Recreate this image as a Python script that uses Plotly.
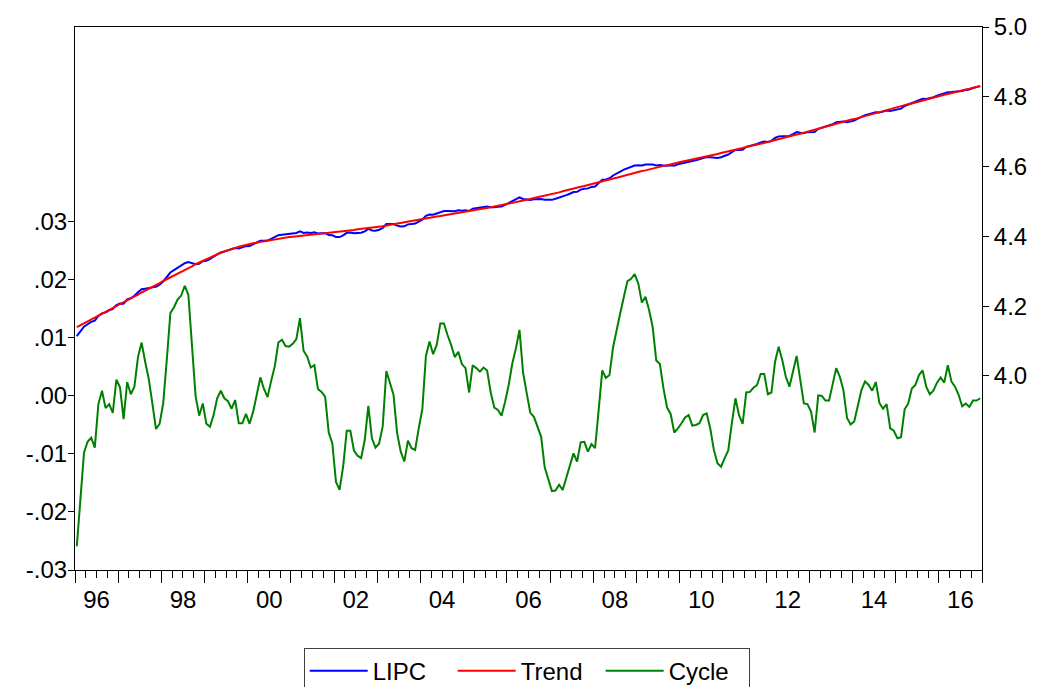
import plotly.graph_objects as go

# Monthly series, 1996M01 - 2016M12 (Hodrick-Prescott decomposition of LIPC)
start_year = 1996

cycle = [
    # 1996
    -0.0259, -0.0174, -0.0098, -0.0079, -0.0072, -0.0089, -0.0014, 0.0009, -0.0021, -0.0014, -0.0029, 0.0028,
    # 1997
    0.0015, -0.0040, 0.0024, 0.0003, 0.0016, 0.0067, 0.0092, 0.0059, 0.0029, -0.0013, -0.0057, -0.0048,
    # 1998
    -0.0013, 0.0062, 0.0143, 0.0153, 0.0166, 0.0173, 0.0190, 0.0174, 0.0088, 0.0000, -0.0034, -0.0013,
    # 1999
    -0.0048, -0.0053, -0.0033, -0.0004, 0.0009, -0.0004, -0.0009, -0.0022, -0.0007, -0.0047, -0.0047, -0.0031,
    # 2000
    -0.0048, -0.0027, 0.0002, 0.0032, 0.0012, -0.0002, 0.0026, 0.0051, 0.0092, 0.0097, 0.0086, 0.0085,
    # 2001
    0.0090, 0.0098, 0.0134, 0.0078, 0.0068, 0.0049, 0.0053, 0.0012, 0.0007, -0.0001, -0.0063, -0.0082,
    # 2002
    -0.0148, -0.0162, -0.0122, -0.0060, -0.0060, -0.0094, -0.0103, -0.0107, -0.0076, -0.0017, -0.0073, -0.0089,
    # 2003
    -0.0082, -0.0052, 0.0043, 0.0022, 0.0002, -0.0064, -0.0096, -0.0113, -0.0077, -0.0090, -0.0093, -0.0056,
    # 2004
    -0.0023, 0.0069, 0.0094, 0.0072, 0.0088, 0.0125, 0.0125, 0.0105, 0.0088, 0.0067, 0.0076, 0.0055,
    # 2005
    0.0048, 0.0006, 0.0053, 0.0048, 0.0042, 0.0049, 0.0044, 0.0006, -0.0020, -0.0024, -0.0034, -0.0010,
    # 2006
    0.0019, 0.0056, 0.0082, 0.0114, 0.0040, 0.0005, -0.0029, -0.0036, -0.0053, -0.0070, -0.0123, -0.0143,
    # 2007
    -0.0164, -0.0163, -0.0153, -0.0162, -0.0140, -0.0119, -0.0099, -0.0113, -0.0080, -0.0079, -0.0096, -0.0083,
    # 2008
    -0.0090, -0.0024, 0.0044, 0.0031, 0.0036, 0.0084, 0.0111, 0.0143, 0.0171, 0.0198, 0.0202, 0.0210,
    # 2009
    0.0194, 0.0161, 0.0171, 0.0148, 0.0119, 0.0061, 0.0055, 0.0013, -0.0020, -0.0031, -0.0063, -0.0056,
    # 2010
    -0.0047, -0.0037, -0.0033, -0.0051, -0.0050, -0.0047, -0.0033, -0.0030, -0.0056, -0.0093, -0.0116, -0.0122,
    # 2011
    -0.0107, -0.0094, -0.0047, -0.0004, -0.0033, -0.0048, 0.0006, 0.0007, 0.0014, 0.0019, 0.0038, 0.0038,
    # 2012
    0.0003, 0.0006, 0.0059, 0.0085, 0.0062, 0.0033, 0.0016, 0.0042, 0.0069, 0.0028, -0.0013, -0.0014,
    # 2013
    -0.0027, -0.0063, 0.0001, 0.0000, -0.0008, -0.0008, 0.0022, 0.0048, 0.0033, 0.0010, -0.0038, -0.0049,
    # 2014
    -0.0044, -0.0016, 0.0010, 0.0025, 0.0019, 0.0009, 0.0024, -0.0012, -0.0022, -0.0014, -0.0056, -0.0060,
    # 2015
    -0.0073, -0.0071, -0.0023, -0.0013, 0.0013, 0.0019, 0.0036, 0.0044, 0.0016, 0.0003, 0.0009, 0.0023,
    # 2016
    0.0032, 0.0023, 0.0053, 0.0025, 0.0016, 0.0002, -0.0018, -0.0013, -0.0019, -0.0008, -0.0008, -0.0004,
]

trend = [
    4.140, 4.145, 4.151, 4.156, 4.162, 4.167, 4.173, 4.178, 4.184, 4.189, 4.195, 4.200,
    4.206, 4.211, 4.217, 4.222, 4.228, 4.233, 4.239, 4.244, 4.250, 4.255, 4.261, 4.266,
    4.272, 4.277, 4.282, 4.288, 4.293, 4.298, 4.304, 4.309, 4.314, 4.320, 4.325, 4.330,
    4.335, 4.340, 4.345, 4.349, 4.353, 4.357, 4.361, 4.364, 4.367, 4.370, 4.373, 4.375,
    4.377, 4.380, 4.382, 4.384, 4.386, 4.388, 4.390, 4.392, 4.394, 4.395, 4.397, 4.398,
    4.399, 4.400, 4.401, 4.402, 4.404, 4.405, 4.406, 4.407, 4.408, 4.409, 4.410, 4.411,
    4.413, 4.414, 4.415, 4.416, 4.417, 4.418, 4.420, 4.421, 4.422, 4.423, 4.424, 4.425,
    4.427, 4.429, 4.431, 4.433, 4.435, 4.437, 4.438, 4.440, 4.442, 4.444, 4.446, 4.448,
    4.450, 4.452, 4.453, 4.455, 4.457, 4.458, 4.460, 4.462, 4.463, 4.465, 4.467, 4.468,
    4.470, 4.472, 4.474, 4.476, 4.478, 4.480, 4.481, 4.483, 4.485, 4.487, 4.489, 4.491,
    4.493, 4.495, 4.498, 4.500, 4.503, 4.505, 4.507, 4.510, 4.512, 4.514, 4.517, 4.519,
    4.521, 4.524, 4.526, 4.529, 4.532, 4.534, 4.537, 4.539, 4.542, 4.544, 4.547, 4.550,
    4.552, 4.555, 4.558, 4.560, 4.563, 4.566, 4.568, 4.571, 4.574, 4.576, 4.579, 4.582,
    4.584, 4.587, 4.589, 4.592, 4.594, 4.597, 4.599, 4.602, 4.604, 4.607, 4.609, 4.612,
    4.614, 4.616, 4.618, 4.621, 4.623, 4.625, 4.627, 4.630, 4.632, 4.634, 4.636, 4.639,
    4.641, 4.644, 4.646, 4.648, 4.651, 4.653, 4.656, 4.658, 4.661, 4.663, 4.665, 4.668,
    4.670, 4.673, 4.676, 4.678, 4.681, 4.684, 4.686, 4.689, 4.692, 4.694, 4.697, 4.700,
    4.702, 4.705, 4.708, 4.711, 4.714, 4.717, 4.719, 4.722, 4.725, 4.728, 4.731, 4.734,
    4.736, 4.739, 4.742, 4.745, 4.748, 4.751, 4.753, 4.756, 4.759, 4.762, 4.765, 4.768,
    4.770, 4.773, 4.776, 4.779, 4.781, 4.784, 4.787, 4.790, 4.792, 4.795, 4.798, 4.801,
    4.803, 4.806, 4.808, 4.811, 4.813, 4.816, 4.818, 4.821, 4.823, 4.826, 4.828, 4.831,
]

# LIPC = trend + cycle
lipc = [tr + cy for tr, cy in zip(trend, cycle)]

left_ticks = [-0.03, -0.02, -0.01, 0.00, 0.01, 0.02, 0.03]
left_labels = ["-.03", "-.02", "-.01", ".00", ".01", ".02", ".03"]
right_ticks = [4.0, 4.2, 4.4, 4.6, 4.8, 5.0]
right_labels = ["4.0", "4.2", "4.4", "4.6", "4.8", "5.0"]
year_labels = ["96", "98", "00", "02", "04", "06", "08", "10", "12", "14", "16"]

n = len(cycle)
end_year = start_year + n // 12
# each monthly observation sits at the centre of its month
t = [start_year + (i + 0.5) / 12 for i in range(n)]
label_pos = [start_year + 2 * k + 0.5 for k in range(len(year_labels))]
year_pos = list(range(start_year, end_year + 1))
quarter_pos = [start_year + q / 4 for q in range(4 * (end_year - start_year) + 1)]

FONT = "Liberation Sans, Arial, sans-serif"
fs = 24

fig = go.Figure()
fig.add_trace(go.Scatter(x=t, y=cycle, name="Cycle", mode="lines",
                         line=dict(color="#008000", width=2), legendrank=3,
                         xaxis="x", yaxis="y"))
fig.add_trace(go.Scatter(x=t, y=lipc, name="LIPC", mode="lines",
                         line=dict(color="#0000FF", width=2), legendrank=1,
                         xaxis="x", yaxis="y2"))
fig.add_trace(go.Scatter(x=t, y=trend, name="Trend", mode="lines",
                         line=dict(color="#FF0000", width=2), legendrank=2,
                         xaxis="x", yaxis="y2"))
# carrier for the long yearly tick marks
fig.add_trace(go.Scatter(x=[None], y=[None], xaxis="x2", yaxis="y",
                         showlegend=False, hoverinfo="skip"))

fig.update_layout(
    width=1040, height=687,
    margin=dict(l=75, r=58, t=27, b=117, autoexpand=False),
    paper_bgcolor="white", plot_bgcolor="white",
    font=dict(family=FONT, size=fs, color="black"),
    showlegend=True,
    legend=dict(orientation="h", x=0.498, xanchor="center", y=-0.143, yanchor="top",
                bordercolor="#404040", borderwidth=1, font=dict(size=fs),
                itemwidth=58, entrywidth=75, bgcolor="white"),
    xaxis=dict(range=[start_year, end_year], showgrid=False, zeroline=False,
               automargin=False,
               showline=True, linecolor="black", linewidth=1, mirror=True,
               tickmode="array", tickvals=label_pos, ticktext=year_labels,
               ticks="", ticklabelstandoff=8,
               tickfont=dict(size=fs, color="black"),
               minor=dict(tickmode="array", tickvals=quarter_pos, ticks="outside",
                          ticklen=7, tickcolor="black", tickwidth=1, showgrid=False)),
    xaxis2=dict(range=[start_year, end_year], overlaying="x", side="bottom",
                anchor="y", showgrid=False, zeroline=False, showline=False,
                automargin=False,
                tickmode="array", tickvals=year_pos, ticks="outside", ticklen=12,
                tickcolor="black", tickwidth=1, showticklabels=False),
    yaxis=dict(range=[-0.03, 0.0636], showgrid=False, zeroline=False,
               automargin=False,
               showline=True, linecolor="black", linewidth=1, mirror=True,
               tickmode="array", tickvals=left_ticks, ticktext=left_labels,
               ticks="outside", ticklen=6, tickcolor="black", ticklabelstandoff=-4,
               tickfont=dict(size=fs, color="black")),
    yaxis2=dict(range=[3.4436, 5.0], overlaying="y", side="right",
                showgrid=False, zeroline=False, showline=False,
                automargin=False,
                tickmode="array", tickvals=right_ticks, ticktext=right_labels,
                ticks="outside", ticklen=6, tickcolor="black",
                tickfont=dict(size=fs, color="black")),
)

fig.write_html("out.html")
